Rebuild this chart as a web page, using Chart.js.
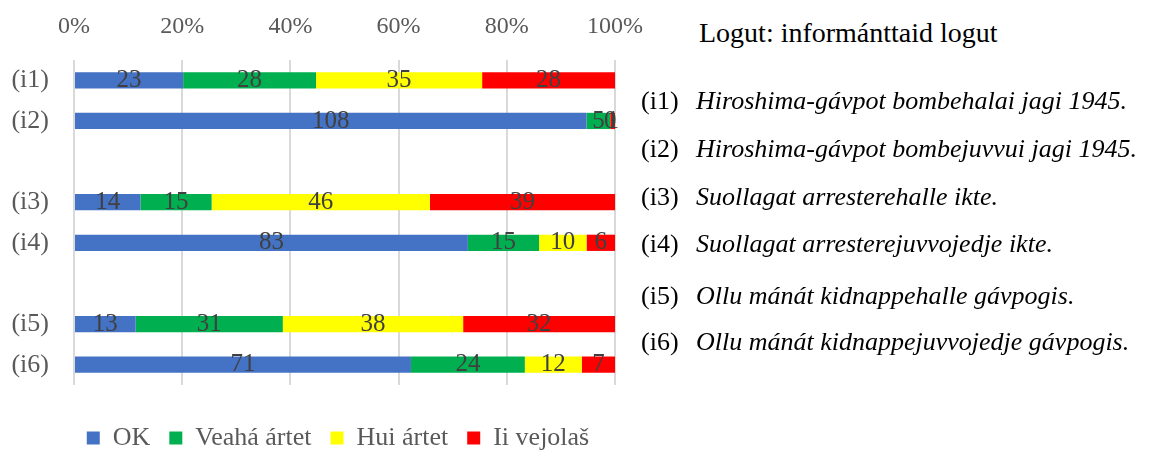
<!DOCTYPE html>
<html>
<head>
<meta charset="utf-8">
<script src="https://cdn.jsdelivr.net/npm/chart.js@4.4.1/dist/chart.umd.min.js"></script>
<style>
  html, body { margin: 0; padding: 0; background: #fff; overflow: hidden; }
  body { width: 1156px; height: 451px; position: relative; font-family: "Liberation Serif", serif; }
  #chart { position: absolute; left: 0; top: 0; }
  .note { position: absolute; font-size: 26px; line-height: 26px; color: #000; white-space: nowrap; }
  .note i { position: absolute; left: 55px; top: 0; }
  .note.title { font-size: 28px; line-height: 28px; }
</style>
</head>
<body>
<canvas id="chart" width="680" height="461"></canvas>
<div id="notes"></div>
<script>
// categories (empty ones are the gaps between the pairs)
const categories = ['(i1)', '(i2)', '', '(i3)', '(i4)', '', '(i5)', '(i6)'];
const seriesNames = ['OK', 'Veahá ártet', 'Hui ártet', 'Ii vejolaš'];
const okCounts    = [23, 108, null, 14, 83, null, 13, 71];
const veahaCounts = [28,   5, null, 15, 15, null, 31, 24];
const huiCounts   = [35,   0, null, 46, 10, null, 38, 12];
const iiCounts    = [28,   1, null, 39,  6, null, 32,  7];
const tickStep = 20;

const notesTitle = 'Logut: informánttaid logut';
const noteTags = ['(i1)', '(i2)', '(i3)', '(i4)', '(i5)', '(i6)'];
const noteTexts = [
  'Hiroshima-gávpot bombehalai jagi 1945.',
  'Hiroshima-gávpot bombejuvvui jagi 1945.',
  'Suollagat arresterehalle ikte.',
  'Suollagat arresterejuvvojedje ikte.',
  'Ollu mánát kidnappehalle gávpogis.',
  'Ollu mánát kidnappejuvvojedje gávpogis.'
];

const seriesColours = ['#4472C4', '#00B050', '#FFFF00', '#FF0000'];
const counts = [okCounts, veahaCounts, huiCounts, iiCounts];

// share of each answer per sentence
const totals = categories.map((_, i) =>
  counts.reduce((sum, arr) => sum + (arr[i] || 0), 0));
const percentages = counts.map(arr =>
  arr.map((v, i) => v === null ? null : (v / totals[i]) * 100));

const datasets = seriesNames.map((label, k) => ({
  label,
  data: percentages[k],
  rawData: counts[k],
  xAxisID: 'x',
  yAxisID: 'y',
  backgroundColor: seriesColours[k],
  borderWidth: 0,
  barPercentage: 0.4,
  categoryPercentage: 1
}));

// count labels in the middle of each piece
const countLabels = {
  id: 'countLabels',
  afterDatasetsDraw(chart) {
    const ctx = chart.ctx;
    ctx.save();
    ctx.font = '25px "Liberation Serif"';
    ctx.fillStyle = '#404040';
    ctx.textAlign = 'center';
    ctx.textBaseline = 'middle';
    chart.data.datasets.forEach((ds, k) => {
      chart.getDatasetMeta(k).data.forEach((bar, i) => {
        const raw = ds.rawData[i];
        if (raw === null) return;
        const c = bar.getCenterPoint();
        ctx.fillText(String(raw), c.x, c.y);
      });
    });
    ctx.restore();
  }
};

new Chart(document.getElementById('chart'), {
  type: 'bar',
  data: { labels: categories, datasets },
  options: {
    indexAxis: 'y',
    responsive: false,
    animation: false,
    layout: { padding: { left: 0, right: 4, top: 0, bottom: 0 } },
    scales: {
      x: {
        position: 'top',
        stacked: true,
        min: 0,
        max: 100,
        grid: { color: '#D9D9D9', lineWidth: 2, drawTicks: false },
        border: { display: false },
        ticks: {
          stepSize: tickStep,
          padding: 19,
          maxRotation: 0,
          color: '#595959',
          font: { family: 'Liberation Serif', size: 24 },
          callback: v => v + '%'
        },
        afterFit(s) { s.height = 60; }
      },
      y: {
        type: 'category',
        stacked: true,
        grid: { display: false, drawTicks: false },
        border: { display: false },
        ticks: {
          padding: 25,
          color: '#595959',
          font: { family: 'Liberation Serif', size: 26 }
        },
        afterFit(s) { s.width = 74; }
      },
      // empty spacers: keep the legend off the plot and centred like the original
      x2: {
        type: 'linear',
        position: 'bottom',
        grid: { display: false, drawTicks: false },
        border: { display: false },
        ticks: { display: false },
        afterFit(s) { s.height = 21; }
      },
      y2: {
        type: 'linear',
        position: 'right',
        grid: { display: false, drawTicks: false },
        border: { display: false },
        ticks: { display: false },
        afterFit(s) { s.width = 61; }
      }
    },
    plugins: {
      legend: {
        position: 'bottom',
        labels: {
          boxWidth: 13,
          boxHeight: 13,
          padding: 19,
          color: '#595959',
          font: { family: 'Liberation Serif', size: 26 }
        }
      },
      tooltip: {
        callbacks: {
          label: ctx => `${ctx.dataset.label}: ${ctx.dataset.rawData[ctx.dataIndex]}`
        }
      }
    }
  },
  plugins: [countLabels]
});

// the sentence key on the right
const notesBox = document.getElementById('notes');
const title = document.createElement('div');
title.className = 'note title';
title.style.left = '699px';
title.style.top = '19px';
title.textContent = notesTitle;
notesBox.appendChild(title);

const noteBaselines = [110, 158, 206, 253, 305, 351];
noteTags.forEach((tag, i) => {
  const row = document.createElement('div');
  row.className = 'note';
  row.style.left = '641px';
  row.style.top = (noteBaselines[i] - 22) + 'px';
  row.textContent = tag;
  const txt = document.createElement('i');
  txt.textContent = noteTexts[i];
  row.appendChild(txt);
  notesBox.appendChild(row);
});
</script>
</body>
</html>
